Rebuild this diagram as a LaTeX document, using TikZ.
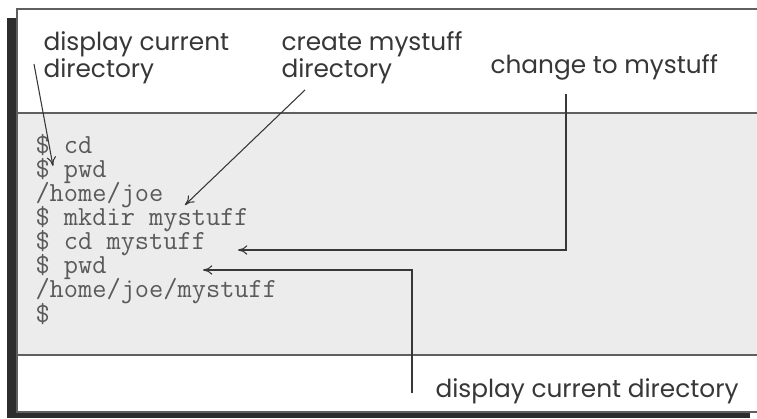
\documentclass[tikz,border=0pt]{standalone}
\usepackage{fontspec}
\setmainfont{Poppins}
\usetikzlibrary{arrows.meta}

\definecolor{inkgray}{RGB}{55,55,55}
\definecolor{termgray}{RGB}{90,90,90}
\definecolor{bandgray}{RGB}{236,236,236}
\definecolor{shadowgray}{RGB}{45,45,45}

\tikzset{every picture/.style={line width=0.75pt}}
\tikzset{
  note/.style={anchor=base west, inner sep=0pt, align=left, text=inkgray,
    font=\fontsize{18.6}{18.75}\selectfont},
  session/.style={anchor=base west, inner sep=0pt, align=left, text=termgray,
    font={\ttfamily\fontsize{20.7}{18.07}\selectfont\lineskiplimit=-100pt}},
  pointer/.style={draw=inkgray, line width=0.8pt, -{To[length=7pt,width=7pt]}},
  rule/.style={draw=inkgray!80, line width=1.2pt}
}

\begin{document}
\begin{tikzpicture}[x=0.75pt,y=0.75pt,yscale=-1,xscale=1]
  \useasboundingbox (0,0) rectangle (757,418);

  % shadow and frame
  \fill[shadowgray] (7,18) rectangle (750,418);
  \fill[white] (17,9) rectangle (760,412);
  \fill[bandgray] (17,113) rectangle (760,355);
  \draw[rule] (760,9) -- (17,9) -- (17,412) -- (760,412);
  \draw[rule] (17,113) -- (760,113);
  \draw[rule] (17,355) -- (760,355);

  % labels (base = last line)
  \node[note] (dcdtop) at (43,77) {display current\\directory};
  \node[note] (mkd) at (281,77) {create mystuff\\directory};
  \node[note] (chg) at (490,73) {change to mystuff};
  \node[note] (dcdbot) at (435,397) {display current directory};

  % terminal session
  \node[session] (term) at (35,322) {\$ cd\\\$ pwd\\/home/joe\\\$ mkdir mystuff\\\$ cd mystuff\\\$ pwd\\/home/joe/mystuff\\\$};

  % connector ends
  \coordinate (dcdtopA) at (34,64);
  \coordinate (dcdtopB) at (53,166);
  \coordinate (mkdA) at (305,90);
  \coordinate (mkdB) at (185,205);
  \coordinate (chgA) at (566,94);
  \coordinate (chgB) at (238,250);
  \coordinate (dcdbotA) at (412,393);
  \coordinate (dcdbotB) at (203,270);

  \draw[pointer] (dcdtopA) -- (dcdtopB);
  \draw[pointer] (mkdA) -- (mkdB);
  \draw[pointer] (chgA) |- (chgB);
  \draw[pointer] (dcdbotA) |- (dcdbotB);
\end{tikzpicture}
\end{document}
